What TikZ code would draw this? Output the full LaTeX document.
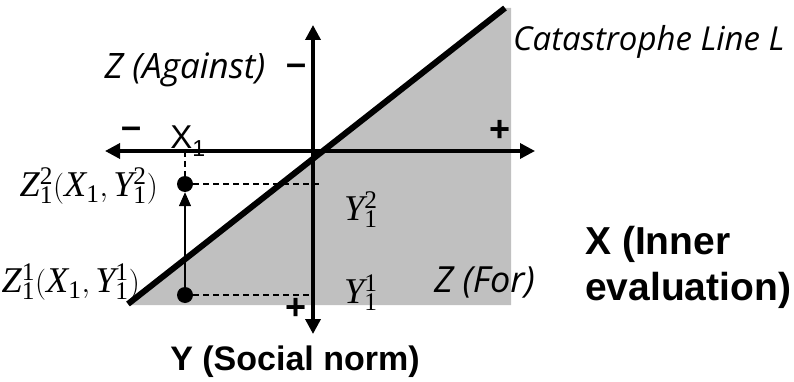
\documentclass[tikz,border=0pt]{standalone}
\usepackage{mathspec}
\setmainfont{Liberation Serif}
\setsansfont{Liberation Sans}
\setmathsfont(Digits,Latin){Liberation Serif}
\newfontfamily\handfont{Open Sans}
\usetikzlibrary{arrows.meta,positioning}
\definecolor{normgray}{HTML}{C0C0C0}
\newcommand{\bigmath}[1]{\scalebox{1.25}{$#1$}}

\begin{document}
\begin{tikzpicture}[
  x=1pt, y=-1pt,
  >={Triangle[length=15pt, width=15pt]},
  axis/.style={line width=3.5pt, <->},
  cusp/.style={line width=6pt},
  guide/.style={line width=1.3pt, dash pattern=on 6pt off 4pt},
  hand/.style={font=\handfont\itshape\fontsize{35}{40}\selectfont, inner sep=0pt},
  bold/.style={font=\sffamily\bfseries\fontsize{34}{42}\selectfont, inner sep=0pt},
  sign/.style={font=\sffamily\bfseries\fontsize{36}{36}\selectfont, inner sep=0pt},
  mlbl/.style={font=\fontsize{29}{34}\selectfont, inner sep=0pt},
  dot/.style={circle, fill, inner sep=0pt, minimum size=16pt}
]
\useasboundingbox (0,0) rectangle (794,382);

% axes and catastrophe line
\coordinate (O) at (313,151);
\coordinate (W) at (105,151);
\coordinate (E) at (535,151);
\coordinate (N) at (313,25);
\coordinate (S) at (313,334);
\coordinate (L0) at (128,304);
\coordinate (L1) at (505,8);
\fill[normgray] (L0) -- (L1) -- (511,8) -- (511,305) -- (128,305) -- cycle;

% the two states at X_1
\node[dot] (z2) at (185,184) {};
\node[dot] (z1) at (185,295) {};
\coordinate (x1) at (185,151);
\coordinate (y2) at (320,184);
\coordinate (y1) at (312,295);
\draw[guide] (x1) -- (z2);
\draw[guide] (z2) -- (y2);
\draw[guide] (z1) -- (y1);

\draw[axis] (W) -- (E);
\draw[axis] (N) -- (S);
\draw[cusp] (L0) -- (L1);
\draw[line width=1.3pt, -{Triangle[length=14pt, width=12pt]}] (z1) -- (z2.south);

% labels
\node[hand] (against) at (185,70) {Z (Against)};
\node[sign] (minusz) at (297,70) {--};
\node[hand, font=\handfont\itshape\fontsize{33}{40}\selectfont, anchor=west] (cat) at (513,42) {Catastrophe Line L};
\node[sign] (minusx) at (132,133) {--};
\node[font=\sffamily\fontsize{33}{33}\selectfont, inner sep=0pt] (lblx1) at (188,141) {X\textsubscript{1}};
\node[sign] (plusx) at (500,131) {+};
\node[sign] (plusy) at (296,309) {+};
\node[mlbl, anchor=east] (lblz2) at (158,186) {\bigmath{Z_1^2(X_1,Y_1^2)}};
\node[mlbl, anchor=east] (lblz1) at (140,282) {\bigmath{Z_1^1(X_1,Y_1^1)}};
\node[mlbl, anchor=west] (lbly2) at (344,210) {\bigmath{Y_1^2}};
\node[mlbl, anchor=west] (lbly1) at (344,293) {\bigmath{Y_1^1}};
\node[hand, font=\handfont\itshape\fontsize{36}{40}\selectfont, anchor=west] (lblfor) at (434,282) {Z (For)};
\node[bold, font=\sffamily\bfseries\fontsize{39}{46}\selectfont, anchor=west, align=left] (xaxis) at (585,267) {X (Inner\\evaluation)};
\node[bold] (yaxis) at (295,362) {Y (Social norm)};
\end{tikzpicture}
\end{document}
